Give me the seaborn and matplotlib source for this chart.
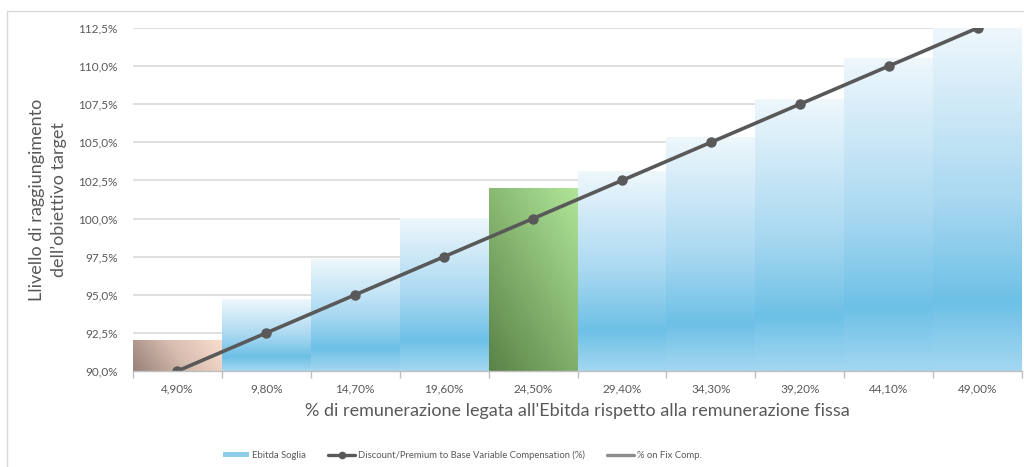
import numpy as np
import pandas as pd
import matplotlib
matplotlib.use("Agg")
import matplotlib.pyplot as plt
import seaborn as sns
from matplotlib.colors import LinearSegmentedColormap
from matplotlib.lines import Line2D
from matplotlib.patches import Rectangle

# Data
categories = ["4,90%", "9,80%", "14,70%", "19,60%", "24,50%",
              "29,40%", "34,30%", "39,20%", "44,10%", "49,00%"]
ebitda_soglia = [92.0, 94.7, 97.3, 100.0, 102.0, 103.1, 105.3, 107.8, 110.5, 112.5]
discount_premium = [90.0, 92.5, 95.0, 97.5, 100.0, 102.5, 105.0, 107.5, 110.0, 112.5]

df = pd.DataFrame({"cat": categories, "soglia": ebitda_soglia, "disc": discount_premium})

sns.set_theme(style="white")
plt.rcParams["font.family"] = ["Lato", "DejaVu Sans"]
text_col = "#595959"

fig = plt.figure(figsize=(10.24, 4.67), dpi=100)
ax = fig.add_axes([133 / 1024, 1 - 371 / 467, (1022 - 133) / 1024, (371 - 28) / 467])

sns.barplot(data=df, x="cat", y="soglia", hue="cat", palette=["#6DC0E6"] * len(df),
            width=1.0, legend=False, ax=ax, zorder=2)

# gradient fills
blue_cmap = LinearSegmentedColormap.from_list(
    "blue", [(0.0, "#A3D7F1"), (0.2, "#6DC0E6"), (0.5, "#A9D8F1"), (1.0, "#EEF7FC")])
brown_cmap = LinearSegmentedColormap.from_list("brown", ["#978179", "#D6BBAF", "#FADDCC"])
green_cmap = LinearSegmentedColormap.from_list("green", ["#5A8348", "#85B46F", "#AFE598"])

ymin, ymax = 90.0, 112.5
for i, p in enumerate(ax.patches):
    x0, w, h = p.get_x(), p.get_width(), p.get_height()
    p.set_facecolor("none")
    p.set_edgecolor("none")
    if i == 0:
        xx, yy = np.meshgrid(np.linspace(0, 1, 80), np.linspace(0, 1, 80))
        grad = xx * 0.8 + yy * 0.2
        cmap = brown_cmap
    elif i == 4:
        xx, yy = np.meshgrid(np.linspace(0, 1, 80), np.linspace(0, 1, 80))
        grad = xx * 0.45 + yy * 0.55
        cmap = green_cmap
    else:
        grad = np.linspace(0, 1, 200).reshape(-1, 1)
        cmap = blue_cmap
    ax.imshow(grad, cmap=cmap, origin="lower", aspect="auto",
              extent=[x0, x0 + w, ymin, h], zorder=1, interpolation="bilinear")

ax.plot(np.arange(len(df)), df["disc"], color="#595959", lw=2.6,
        marker="o", markersize=6.5, zorder=4, solid_capstyle="round")

ax.set_xlim(-0.5, len(df) - 0.5)
ax.set_ylim(ymin, ymax)
yt = np.arange(90, 112.6, 2.5)
ax.set_yticks(yt)
ax.set_yticklabels([f"{v:.1f}%".replace(".", ",") for v in yt])
ax.yaxis.grid(True, color="#D9D9D9", lw=1.2, zorder=0)
ax.set_axisbelow(True)

ax.set_xticks(np.arange(len(df)))
ax.set_xticklabels(categories)
ax.set_xticks(np.arange(-0.5, len(df)), minor=True)
ax.tick_params(axis="x", which="major", length=0, pad=9, labelsize=8.5, labelcolor=text_col)
ax.tick_params(axis="x", which="minor", length=5, width=1, color="#BFBFBF", bottom=True)
ax.tick_params(axis="y", length=0, pad=11, labelsize=8.5, labelcolor=text_col)

for s in ["top", "right", "left"]:
    ax.spines[s].set_visible(False)
ax.spines["bottom"].set_color("#BFBFBF")
ax.spines["bottom"].set_linewidth(1)
ax.spines["bottom"].set_zorder(5)

ax.set_xlabel("% di remunerazione legata all'Ebitda rispetto alla remunerazione fissa",
              fontsize=13, color=text_col, labelpad=6)
ax.set_ylabel("Llivello di raggiungimento\ndell\u2019obiettivo target",
              fontsize=13, color=text_col, labelpad=8, linespacing=1.4)

# legend
blue_handle = Rectangle((0, 0), 1, 1, facecolor="#8FCDED", edgecolor="none")
handles = [
    blue_handle,
    Line2D([0], [0], color="#595959", lw=2.4, marker="o", markersize=4.5),
    Line2D([0], [0], color="#8C8C8C", lw=2.4),
]
labels = ["Ebitda Soglia", "Discount/Premium to Base Variable Compensation (%)", "% on Fix Comp."]
leg = fig.legend(handles, labels, loc="center", bbox_to_anchor=(462 / 1024, 1 - 455 / 467),
                 ncol=3, frameon=False, fontsize=6.8, columnspacing=2.4, handlelength=2.8,
                 handleheight=0.5, handletextpad=0.3)
for t in leg.get_texts():
    t.set_color(text_col)

# outer chart border
fig.patches.append(Rectangle((7 / 1024, -0.1), 1.2, 1 - 11 / 467 + 0.1,
                             transform=fig.transFigure, fill=False,
                             edgecolor="#D9D9D9", lw=1))

fig.savefig("out.png", dpi=100)
